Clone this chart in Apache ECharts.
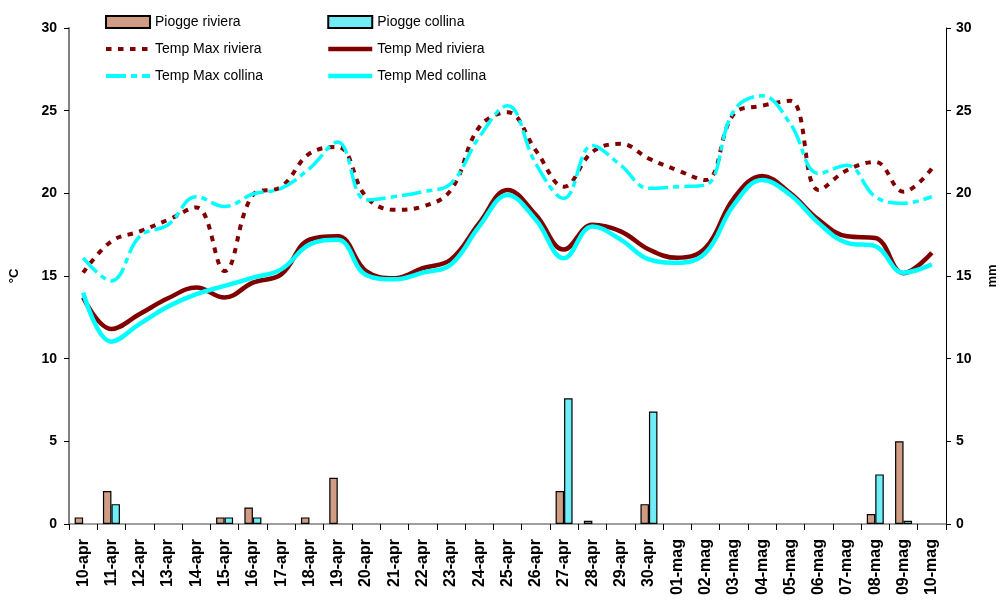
<!DOCTYPE html>
<html>
<head>
<meta charset="utf-8">
<script src="https://cdn.jsdelivr.net/npm/echarts@6/dist/echarts.min.js"></script>
<style>html,body{margin:0;padding:0;background:#fff;}#c{width:1007px;height:607px;}</style>
</head>
<body>
<div id="c"></div>
<script>
var categories = ['10-apr','11-apr','12-apr','13-apr','14-apr','15-apr','16-apr','17-apr','18-apr','19-apr','20-apr','21-apr','22-apr','23-apr','24-apr','25-apr','26-apr','27-apr','28-apr','29-apr','30-apr','01-mag','02-mag','03-mag','04-mag','05-mag','06-mag','07-mag','08-mag','09-mag','10-mag'];
var pioggeRiviera = [0.4,2.0,0,0,0,0.4,1.0,0,0.4,2.8,0,0,0,0,0,0,0,2.0,0.2,0,1.2,0,0,0,0,0,0,0,0.6,5.0,0];
var pioggeCollina = [0,1.2,0,0,0,0.4,0.4,0,0,0,0,0,0,0,0,0,0,7.6,0,0,6.8,0,0,0,0,0,0,0,3.0,0.2,0];
var tempMaxRiviera = [15.2,17.1,17.7,18.4,19.15,15.3,19.9,20.4,22.4,22.8,19.8,19.0,19.2,20.2,24.0,24.9,22.6,20.4,22.5,23.0,22.1,21.4,20.8,24.8,25.3,25.6,20.2,21.4,21.9,20.1,21.5];
var tempMedRiviera = [13.7,11.8,12.7,13.65,14.3,13.7,14.6,15.1,17.2,17.4,15.3,14.86,15.47,16.0,18.2,20.2,18.7,16.6,18.1,17.7,16.6,16.1,16.7,19.7,21.05,20.0,18.4,17.4,17.3,15.17,16.4];
var tempMaxCollina = [16.1,14.7,17.4,18.1,19.8,19.2,19.96,20.3,21.5,23.1,19.6,19.8,20.1,20.6,23.4,25.3,21.8,19.7,22.9,21.7,20.3,20.4,20.5,25.0,25.9,24.2,21.2,21.7,19.8,19.4,19.8];
var tempMedCollina = [14.0,11.03,12.1,13.15,13.9,14.4,14.9,15.4,16.9,17.2,15.06,14.8,15.2,15.7,18.0,19.9,18.4,16.07,18.0,17.2,16.0,15.8,16.4,19.3,20.8,19.9,18.2,17.0,16.8,15.2,15.7];
var yTicks = {min:0, max:30, interval:5};

var FONT = "'Liberation Sans', Arial, sans-serif";
var chart = echarts.init(document.getElementById('c'), null, {renderer:'canvas'});

function nz(arr){ return arr.map(function(v){ return v === 0 ? null : v; }); }

var legendCommon = {
  orient: 'vertical', itemWidth: 44, itemHeight: 12, itemGap: 11,
  textStyle: {fontFamily: FONT, fontSize: 14, color: '#000', lineHeight: 16},
  padding: 0, selectedMode: false
};
var HIDDEN = 'rgba(0,0,0,0)';

var option = {
  animation: false,
  backgroundColor: '#fff',
  legend: [
    Object.assign({}, legendCommon, {left: 104, top: 14, data: [
      {name: 'Piogge riviera', icon: 'rect'},
      {name: 'Temp Max riviera', lineStyle: {width: 4}},
      {name: 'Temp Max collina', lineStyle: {width: 4}}
    ]}),
    Object.assign({}, legendCommon, {left: 326, top: 14, data: [
      {name: 'Piogge collina', icon: 'rect'},
      {name: 'Temp Med riviera', lineStyle: {width: 4.5}},
      {name: 'Temp Med collina', lineStyle: {width: 4.5}}
    ]})
  ],
  grid: {left: 65, right: 44, top: 28, bottom: 83, containLabel: false},
  xAxis: {
    type: 'category', data: categories, boundaryGap: true,
    axisLine: {lineStyle: {color: '#808080', width: 1.5}},
    axisTick: {show: true, length: 6, inside: false, alignWithLabel: false, lineStyle: {color: '#000'}, interval: 0},
    axisLabel: {interval: 0, rotate: 90, margin: 15, fontFamily: FONT, fontWeight: 'bold', fontSize: 16, color: '#000'},
    splitLine: {show: false}
  },
  yAxis: [
    {
      type: 'value', min: yTicks.min, max: yTicks.max, interval: yTicks.interval,
      name: '°C', nameLocation: 'middle', nameRotate: 90, nameGap: 48,
      nameTextStyle: {fontFamily: FONT, fontWeight: 'bold', fontSize: 13, color: '#000'},
      axisLine: {show: true, lineStyle: {color: '#808080', width: 2}},
      axisTick: {show: true, length: 5, lineStyle: {color: '#000'}},
      axisLabel: {margin: 12, fontFamily: FONT, fontWeight: 'bold', fontSize: 14, color: '#000'},
      splitLine: {show: false}
    },
    {
      type: 'value', min: yTicks.min, max: yTicks.max, interval: yTicks.interval, position: 'right',
      name: 'mm', nameLocation: 'middle', nameRotate: 90, nameGap: 40,
      nameTextStyle: {fontFamily: FONT, fontWeight: 'bold', fontSize: 13, color: '#000'},
      axisLine: {show: true, lineStyle: {color: '#000', width: 1}},
      axisTick: {show: true, length: 5, lineStyle: {color: '#000'}},
      axisLabel: {margin: 10, fontFamily: FONT, fontWeight: 'bold', fontSize: 14, color: '#000'},
      splitLine: {show: false}
    }
  ],
  series: [
    {name: 'Piogge riviera', type: 'bar', yAxisIndex: 1, data: nz(pioggeRiviera), barWidth: 8.5, barGap: '0%',
     itemStyle: {color: '#d09c84', borderColor: '#000', borderWidth: 1.2}},
    {name: 'Piogge collina', type: 'bar', yAxisIndex: 1, data: nz(pioggeCollina), barWidth: 8.5, barGap: '0%',
     itemStyle: {color: '#70eef8', borderColor: '#000', borderWidth: 1.2}},
    {name: 'Temp Max riviera', type: 'line', data: tempMaxRiviera, smooth: 0.4, symbol: 'none',
     lineStyle: {color: '#800000', width: 4, type: [5.5, 6.5]}, itemStyle: {color: HIDDEN, borderWidth: 0}},
    {name: 'Temp Max collina', type: 'line', data: tempMaxCollina, smooth: 0.4, symbol: 'none',
     lineStyle: {color: '#00ffff', width: 3.5, type: [20, 5, 6, 5]}, itemStyle: {color: HIDDEN, borderWidth: 0}},
    {name: 'Temp Med riviera', type: 'line', data: tempMedRiviera, smooth: 0.4, symbol: 'none',
     lineStyle: {color: '#800000', width: 4.5}, itemStyle: {color: HIDDEN, borderWidth: 0}},
    {name: 'Temp Med collina', type: 'line', data: tempMedCollina, smooth: 0.4, symbol: 'none',
     lineStyle: {color: '#00ffff', width: 4.5}, itemStyle: {color: HIDDEN, borderWidth: 0}}
  ]
};
chart.setOption(option);
</script>
</body>
</html>
